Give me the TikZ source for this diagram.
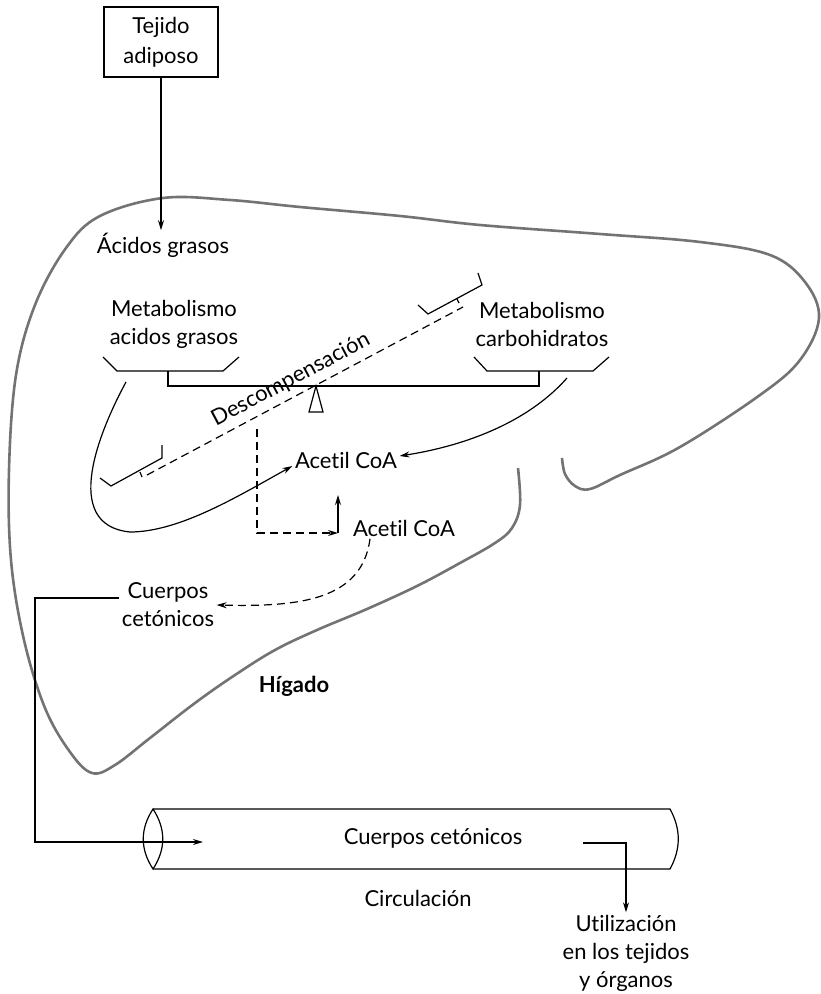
\documentclass[tikz,border=0pt]{standalone}
\usepackage{fontspec}
\setmainfont{Lato}[Ligatures=CommonOff]
\usetikzlibrary{arrows.meta}

\begin{document}
\begin{tikzpicture}[x=0.5pt, y=-0.5pt, line width=0.6pt,
    >={Stealth[length=5pt,width=3pt]},
    every node/.style={font=\fontsize{11}{14}\selectfont, align=center, inner sep=1pt},
    liver/.style={draw=black!55, line width=1.3pt},
    brk/.style={dash pattern=on 4pt off 2.5pt}]
  \useasboundingbox (0,0) rectangle (820,994);

  % liver outline
  \draw[liver] plot[smooth, tension=0.6] coordinates {
    (518,468) (520,505) (512,528) (495,543) (460,563) (417,586) (367,609)
    (317,630) (275,650) (235,675) (195,703) (150,738) (115,765) (92,773)
    (70,752) (45,708) (24,640) (11,560) (9,470) (16,375) (35,305) (66,248)
    (100,216) (163,198) (230,200) (300,207) (400,216) (480,225) (600,234)
    (700,242) (770,255) (805,282) (819,318) (800,360) (760,395) (680,447)
    (620,475) (590,489) (575,486) (565,474) (562,458)};

  \node[draw, minimum width=57pt, minimum height=35pt,
        font=\fontsize{11}{15}\selectfont] (tejido) at (161,42) {Tejido\\adiposo};
  \node (acidos) at (163,245) {Ácidos grasos};
  \node (metag) at (174,324) {Metabolismo\\acidos grasos};
  \node (metac) at (542,324) {Metabolismo\\carbohidratos};
  \node (acetil) at (346,460) {Acetil CoA};
  \node (acetilb) at (404,528) {Acetil CoA};
  \node (cuerpos) at (168,605) {Cuerpos\\cetónicos};
  \node[font=\fontsize{11}{14}\bfseries\selectfont] (higado) at (294,686) {Hígado};
  \node (cuerposc) at (433,838) {Cuerpos cetónicos};
  \node (circ) at (418,898) {Circulación};
  \node (util) at (626,953) {Utilización\\en los tejidos\\y órganos};

  \draw[->] (tejido.south) -- (tejido.south |- acidos.north);

  % balance in equilibrium
  \draw (168,371) -- (168,386) -- (539,386) -- (539,371);
  \draw (103,357) -- (117,371) -- (223,371) -- (239,357);
  \draw (474,357) -- (487,371) -- (593,371) -- (609,357);
  \draw (316,386) -- (309,412) -- (323,412) -- cycle;

  % tilted balance
  \draw[brk] (147,475) -- node[sloped, above=2pt, pos=0.48] {Descompensación} (463,307);
  \draw (100,478) -- (111,486) -- (162,458) -- (162,445);
  \draw (140,472) -- (142,477);
  \draw (418,305) -- (428,314) -- (482,285) -- (478,273);
  \draw (457,299) -- (459,303);

  \coordinate (fromL) at (126,382);
  \coordinate (fromR) at (567,378);
  \draw[->] (fromL) .. controls (100,430) and (60,525) .. (130,532)
    .. controls (180,532) and (240,495) .. ([yshift=-3pt]acetil.west);
  \draw[->] (fromR) .. controls (530,420) and (470,445) .. ([yshift=2pt]acetil.east);

  \coordinate (drop) at (257,429);
  \coordinate (corner) at (338,533);
  \draw[brk, ->] (drop) |- (corner);
  \draw[->] (corner) -- ++(0,-38);
  \draw[brk, ->] ([xshift=-17pt]acetilb.south) .. controls (362,600) and (300,607) .. (cuerpos.east);

  % out to the blood
  \coordinate (bend) at (35,842);
  \coordinate (inflow) at (203,842);
  \draw[->] ([yshift=3.5pt]cuerpos.west) -| (bend) -- (inflow);

  % vessel
  \draw (153,809) -- (670,809) .. controls (681,829) and (681,849) .. (670,869) -- (153,869);
  \draw (153,809) .. controls (140,829) and (140,849) .. (153,869)
    .. controls (166,849) and (166,829) .. cycle;

  \coordinate (outflow) at (583,843);
  \draw[->] (outflow) -| (util.north);
\end{tikzpicture}
\end{document}
